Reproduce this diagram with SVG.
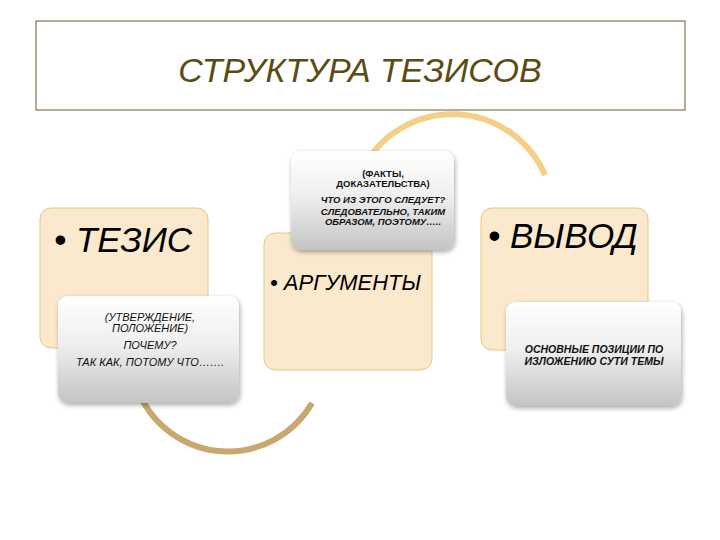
<svg xmlns="http://www.w3.org/2000/svg" width="720" height="540" viewBox="0 0 720 540">
<defs>
<linearGradient id="gray" x1="0" y1="0" x2="0" y2="1">
<stop offset="0" stop-color="#ffffff"/>
<stop offset="0.45" stop-color="#efefef"/>
<stop offset="1" stop-color="#c4c4c4"/>
</linearGradient>
<filter id="sh" x="-10%" y="-10%" width="125%" height="130%">
<feGaussianBlur in="SourceAlpha" stdDeviation="2.5"/>
<feOffset dx="1" dy="2" result="b"/>
<feComponentTransfer><feFuncA type="linear" slope="0.35"/></feComponentTransfer>
<feMerge><feMergeNode/><feMergeNode in="SourceGraphic"/></feMerge>
</filter>
</defs>
<style>
.beige{fill:#fae9cd;stroke:#e8c77e;stroke-width:1}
.grey{fill:url(#gray);filter:url(#sh)}
.big{font-family:"Liberation Sans",Arial,sans-serif;font-style:italic;fill:#000}
.sm{font-family:"Liberation Sans",Arial,sans-serif;font-style:italic;fill:#111;text-anchor:middle}
.b{font-weight:bold}
.up{font-style:normal}
</style>
<rect width="720" height="540" fill="#ffffff"/>
<g id="title">
<rect x="36" y="21" width="649" height="89" fill="#ffffff" stroke="#6b5a30" stroke-width="1"/>
<text x="360" y="82" font-family="'Liberation Sans',Arial,sans-serif" font-style="italic" font-size="34" fill="#5c4b12" text-anchor="middle">СТРУКТУРА ТЕЗИСОВ</text>
</g>
<g id="connectors" fill="none">
<path d="M 362 170 A 101 101 0 0 1 545 175" stroke="#f5cf88" stroke-width="6"/>
<path d="M 139 393 A 97 97 0 0 0 312 403" stroke="#c9a86f" stroke-width="6"/>
</g>
<g id="tezis">
<rect class="beige" x="40" y="208" width="168" height="140" rx="11"/>
<text class="big" x="54" y="252" font-size="35">• ТЕЗИС</text>
</g>
<g id="tezis-note">
<rect class="grey" x="58" y="296" width="181" height="107" rx="10"/>
<text class="sm" font-size="11"><tspan x="150" y="321">(УТВЕРЖДЕНИЕ,</tspan><tspan x="150" y="332">ПОЛОЖЕНИЕ)</tspan><tspan x="150" y="349">ПОЧЕМУ?</tspan><tspan x="150" y="366">ТАК КАК, ПОТОМУ ЧТО…….</tspan></text>
</g>
<g id="argumenty">
<rect class="beige" x="264" y="233" width="168" height="137" rx="11"/>
<text class="big" x="270" y="290" font-size="22">• АРГУМЕНТЫ</text>
</g>
<g id="argumenty-note">
<rect class="grey" x="291" y="151" width="163" height="99" rx="10"/>
<text class="sm b" font-size="9.5"><tspan class="up" x="383" y="177">(ФАКТЫ,</tspan><tspan class="up" x="383" y="187">ДОКАЗАТЕЛЬСТВА)</tspan><tspan x="383" y="203">ЧТО ИЗ ЭТОГО СЛЕДУЕТ?</tspan><tspan x="383" y="215">СЛЕДОВАТЕЛЬНО, ТАКИМ</tspan><tspan x="383" y="225">ОБРАЗОМ, ПОЭТОМУ…..</tspan></text>
</g>
<g id="vyvod">
<rect class="beige" x="481" y="208" width="167" height="142" rx="11"/>
<text class="big" x="488" y="248" font-size="35">• ВЫВОД</text>
</g>
<g id="vyvod-note">
<rect class="grey" x="506" y="302" width="175" height="104" rx="10"/>
<text class="sm b" font-size="10.5"><tspan x="594" y="353">ОСНОВНЫЕ ПОЗИЦИИ ПО</tspan><tspan x="594" y="365">ИЗЛОЖЕНИЮ СУТИ ТЕМЫ</tspan></text>
</g>
</svg>
